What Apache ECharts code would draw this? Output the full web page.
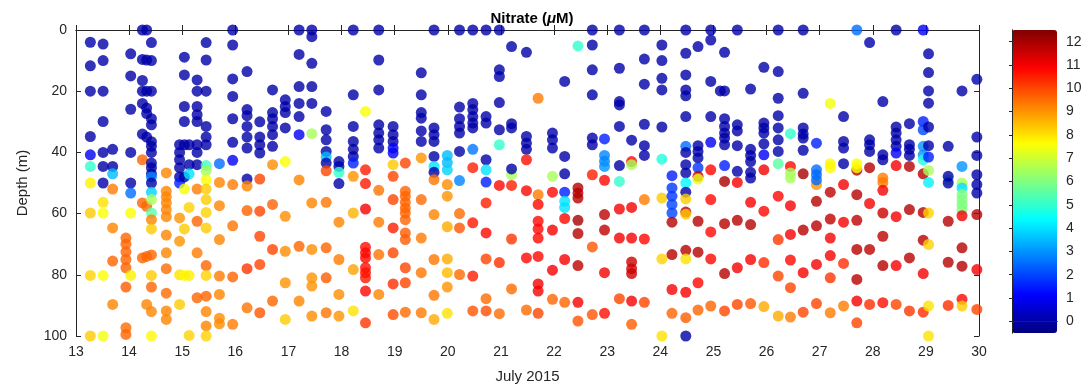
<!DOCTYPE html>
<html>
<head>
<meta charset="utf-8">
<title>Nitrate</title>
<script src="https://cdn.jsdelivr.net/npm/echarts@6/dist/echarts.min.js"></script>
<style>
  html, body { margin: 0; padding: 0; background: #fff; }
  #chart { width: 1089px; height: 389px; }
</style>
</head>
<body>
<div id="chart"></div>
<script>
// profile times (day of July 2015)
var profileDays = [
  13.27, 13.51, 13.69, 13.94, 14.03, 14.25, 14.33, 14.42, 14.7, 14.95,
  15.04, 15.13, 15.28, 15.45, 15.7, 15.95, 16.22, 16.46, 16.7, 16.94,
  17.2, 17.44, 17.71, 17.95, 18.22, 18.45, 18.7, 18.97, 19.2, 19.5,
  19.74, 19.99, 20.22, 20.47, 20.72, 20.97, 21.2, 21.48, 21.7, 21.97,
  22.2, 22.45, 22.72, 22.95, 23.23, 23.46, 23.7, 24.03, 24.22, 24.48,
  24.71, 24.95, 25.21, 25.13, 25.45, 25.7, 25.95, 26.22, 26.45, 26.69,
  26.94, 27.2, 27.45, 27.7, 27.94, 28.19, 28.44, 28.69, 28.95, 29.05,
  29.42, 29.68, 29.96
];

// sample depths (m) of each profile
var profileDepths = [
  [4, 11.7, 20, 34.8, 40.8, 44.6, 50, 59.8, 80.2, 100],
  [4.6, 10, 20, 29.9, 40, 44.6, 50, 56.3, 59.8, 80.2, 100],
  [39, 44.6, 47, 52, 64.7, 75.5, 89.7],
  [68, 70, 72.5, 75, 77.7, 84, 97.3, 99.5],
  [7.8, 15, 25.9, 40, 50, 53.3, 59.8, 80.2],
  [0, 9.6, 16.5, 20, 24, 34, 42.4, 56.5, 74.5],
  [0, 9.8, 20, 25.5, 27.3, 35, 57.6, 74, 89.7],
  [4.1, 10, 20, 29, 31, 36.5, 38, 40, 43.5, 45, 47, 48, 50, 53, 55.4, 59.8, 62, 65, 73.5, 80.2, 84, 92, 100],
  [46.7, 52.7, 54.5, 56.5, 58.7, 61, 67, 72.8, 78, 86, 91.8, 94.6],
  [37.5, 40, 42.4, 45, 48, 50, 61.4, 69, 80, 89.7],
  [8.9, 14.7, 25, 29.9, 37.5, 48, 52, 65, 80.2],
  [37.5, 44, 47, 58, 80.2, 99.8],
  [16.3, 20, 25, 27.7, 29.9, 37.5, 40, 44, 52, 62.5, 72.8, 87.5],
  [4.1, 9.8, 20, 31.5, 35, 37.5, 44.3, 46, 49, 52, 55.4, 59.6, 64.7, 77, 80.2, 87, 92, 96.7, 100],
  [43.7, 49.8, 57.4, 68.5, 80.4, 86.4, 94.2, 96],
  [0, 4.9, 16, 21.7, 29, 36.7, 42.6, 50.5, 64, 80.7, 96.2],
  [13.6, 26, 28, 31.5, 35, 38.6, 48.7, 51, 59, 78, 90.8],
  [30, 35, 37.5, 40.2, 48.7, 59.2, 67.4, 76.6, 92.4],
  [19.6, 27, 29, 31.5, 34.2, 38, 44, 57, 71.7, 88.6],
  [22.8, 25, 27, 32, 43, 60.9, 72.3, 82.6, 94.6],
  [0, 8, 18.5, 24, 28.3, 34.2, 49, 70.7, 88.6],
  [0, 2.2, 10.9, 18.5, 24, 33.9, 56.5, 71.7, 81, 83.7, 93.5],
  [26.6, 32.6, 35.9, 39.7, 41.5, 43.5, 46, 56.3, 71.2, 81, 92.4],
  [43, 44.6, 46.5, 50.2, 62.8, 75, 86.4, 93.5],
  [0, 21.2, 31.5, 36.4, 39, 41.3, 43.5, 47.8, 59.8, 78.3, 91.8],
  [26.6, 45.7, 50.2, 58.5, 71, 72.8, 74.5, 77.7, 79.3, 81, 85.3, 95.7],
  [0, 9.8, 19.6, 31, 33.7, 35.9, 38.6, 52.4, 62.8, 73.4, 86.4],
  [31.5, 34.2, 36.4, 38.6, 40.2, 44, 47.8, 55.4, 64.7, 72.8, 83, 93],
  [43.5, 52.7, 54.3, 56.3, 58.2, 59.8, 62, 66.3, 68.5, 77.7, 82.6, 92.2],
  [14, 21.2, 27, 28.8, 33, 36.4, 41.8, 55.4, 68, 79.3, 92.4],
  [0, 32, 34.2, 36.4, 41.3, 44.6, 46.5, 48.9, 60.3, 75, 86.7, 94.6],
  [41, 43.3, 45.7, 50.5, 54.3, 64.3, 74.8, 79.3, 84, 92.6],
  [0, 25.2, 29, 31.5, 33.7, 39.7, 49.2, 60, 64.7, 79.9],
  [0, 24, 26, 28.3, 30.4, 32, 39, 45, 63, 80.4, 91.8],
  [0, 28.3, 30.4, 42.4, 45.7, 49.7, 56.5, 66.3, 74.8, 87.8, 91.8],
  [0, 13, 15.2, 23.7, 32.6, 37.5, 50.8, 76, 92.7],
  [5.4, 30.6, 32, 47.3, 45.4, 50.8, 68.3, 84.6],
  [7.3, 34.8, 37, 39, 42.4, 52.5, 74.5, 91.5],
  [22.3, 53.8, 57, 62.5, 65, 68, 74, 83, 85.3, 92.6],
  [33.7, 35.9, 38.6, 47.8, 53, 65.4, 78.5, 88],
  [16.8, 41.3, 47, 53, 56, 58, 61.6, 75, 89],
  [5.2, 51.6, 53.3, 54.9, 62.2, 66.5, 77, 89, 95.1],
  [0, 4.9, 13, 21.2, 35.3, 37.5, 47.3, 70.9, 93],
  [35.6, 41, 42.9, 44.6, 49.1, 60.3, 65.4, 79.3, 92.6],
  [0, 12.5, 23.4, 24.5, 31.5, 44.3, 49.5, 58.5, 68, 87.8],
  [36, 43, 44, 58, 68, 75.8, 78, 79.6, 88.6, 96.2],
  [0, 9.5, 17.7, 30.8, 37.8, 41, 55.4, 68.3, 89],
  [4.9, 10, 15.8, 19.6, 31.7, 42.2, 54.9, 74.8, 100],
  [47.6, 51.6, 54.3, 57, 59.8, 62.8, 73.4, 84.8, 92.6],
  [0, 7.6, 14.7, 19.6, 21.5, 28.3, 38, 40, 44, 46.7, 50, 53, 55.2, 59.5, 60.2, 72, 74.8, 85.7, 94, 100],
  [5.4, 37.8, 39.7, 41.8, 45, 47.8, 48.7, 62.5, 72.6, 82.6, 91.5],
  [0, 3.3, 16.8, 28.3, 36.7, 45.7, 55.4, 66, 74.8, 90.2],
  [7.3, 19.9, 29, 31.5, 33.7, 35.3, 37.5, 44.3, 49.5, 63.3, 79.6, 91.8],
  [19.9],
  [0, 31, 33, 37.8, 46.2, 49.8, 62.2, 77.7, 89.7],
  [19.3, 39, 41, 43, 46.5, 48.4, 56.3, 63.6, 75, 89.4],
  [12.2, 30.4, 32, 33.7, 37.2, 40.8, 45.7, 59.2, 76, 90.4],
  [0, 13.6, 22.3, 28, 32, 35.9, 39.7, 43.7, 54.3, 68.5, 80.4, 93.5],
  [33.9, 44.6, 46.7, 48.4, 57.4, 66.8, 75.2, 84.2, 93.8],
  [0, 20.7, 32, 34, 35.3, 39.3, 47, 65.4, 79.3, 92.2],
  [37, 50.5, 45.7, 47.3, 49, 56, 64, 76.6, 89.4],
  [24, 43.7, 45, 53, 61.8, 68, 73.7, 81, 92.4],
  [28.3, 36.4, 38.6, 43.7, 50.5, 62.8, 76.3, 90.2],
  [0, 45.8, 43.7, 45, 53.8, 62.2, 71.7, 81.5, 88.6, 95.7],
  [4.1, 35.9, 37.5, 39.7, 45, 56.7, 71.7, 89.7],
  [23.4, 40.8, 42.4, 48.4, 49.8, 52.4, 59.8, 67.4, 77, 89.1],
  [0, 31.7, 33.7, 35.9, 38, 40.2, 44.3, 61, 77, 89.7],
  [30.6, 37.5, 39, 41, 44.6, 58.7, 74.5, 91.8],
  [0, 29.9, 32.6, 38, 40.8, 42.4, 47, 59.6, 68.7, 79.6, 92.2],
  [7.8, 13.9, 19.9, 23.9, 31.7, 37.8, 41.5, 45.9, 49.8, 59.8, 70.1, 90.2, 100],
  [38, 49, 47.8, 50, 62.5, 75.9, 90],
  [19.9, 44.6, 50, 51.6, 53.8, 55.4, 57, 58.7, 60.7, 71.2, 77.2, 88, 90.2],
  [16.1, 35, 41, 47.3, 50.5, 53.3, 60.3, 78.3, 91.3]
];

// nitrate (uM) at each sample
var profileNitrate = [
  [0, 0, 0, 0, 1, 5, 7.8, 8.3, 8.2, 8.3],
  [0, 0, 0, 0, 0, 0, 0, 8, 7.6, 7.6, 7.5],
  [0, 0, 3.5, 9.3, 9.2, 9.6, 9.2],
  [9.6, 9.6, 9.6, 9.6, 9.6, 9.7, 9.5, 9.6],
  [0, 0, 0, 0, 0, 2.5, 7.6, 7.8],
  [0, 0, 0, 0, 0, 0, 9.6, 9.6, 9.6],
  [0, 0, 0, 0, 0, 0, 9.6, 9.6, 9.2],
  [0, 0, 0, 0, 0, 0, 0, 0, 0, 0, 0, 2.8, 0, 3.8, 6.5, 5.5, 9.2, 8.3, 9.6, 8.3, 9.6, 9.2, 7.7],
  [9.2, 9.2, 9.2, 9.2, 9.2, 9.2, 9.2, 9.2, 9.5, 9.5, 9.2, 9.2],
  [0, 0, 0, 0, 0, 1.5, 9, 9, 8, 8.3],
  [0, 0, 0, 0, 0, 0, 7.5, 8.3, 7.7],
  [0, 0, 4, 8.2, 7.8, 8.2],
  [0, 0, 0, 0, 0, 0, 0, 0, 9.3, 9.6, 9.3, 9.6],
  [0, 0, 0, 0, 0, 0, 5.2, 6.5, 7.6, 8.3, 8.3, 8.2, 8.3, 9.6, 8.2, 9.6, 9.2, 9.2, 8.2],
  [2.5, 9.2, 9.2, 9.2, 9.3, 9.2, 9.1, 9.1],
  [0, 0, 0, 0, 0, 0, 1, 9.3, 9.4, 9.6, 9.3],
  [0, 0, 0, 0, 0, 0, 0, 9.2, 9.6, 10.2, 9.4],
  [0, 0, 0, 0, 10, 10, 10, 10, 9.8],
  [0, 0, 0, 0, 0, 0, 9.1, 9.6, 10, 9.6],
  [0, 0, 0, 0, 7.6, 9.1, 9.1, 9, 8.3],
  [0, 0, 0, 0, 0, 1, 9.2, 9.6, 9.2],
  [0, 0, 0, 0, 0, 6.5, 9.2, 9.1, 9, 9, 9.1],
  [0, 0, 0, 0, 3.5, 0, 10, 9.4, 9.6, 9.7, 9.4],
  [0, 0, 5, 0, 9.2, 9.3, 9.1, 9],
  [0, 0, 0, 0, 0, 0, 1.5, 9, 8.6, 8.8, 8],
  [7.6, 10.5, 10.6, 11, 10.7, 10.8, 10.8, 10.7, 10.7, 10.6, 10.8, 10.2],
  [0, 0, 0, 0, 0, 0, 0, 9.4, 9.3, 9.4, 9.2],
  [0, 0, 0, 1, 1, 8.3, 10, 10, 10.5, 10, 10.3, 9.9],
  [10, 9.6, 9.6, 9.6, 9.6, 9.6, 9.6, 9.7, 9.7, 10, 10, 9.5],
  [0, 0, 0, 0, 0, 0, 9, 9.5, 9.3, 9.4, 9.3],
  [0, 0, 0, 0, 0, 4, 0, 9.4, 9.2, 9.4, 9.4, 8.7],
  [3.5, 3.5, 3.8, 9.1, 9, 8.7, 8.7, 8.5, 9, 8],
  [0, 0, 0, 0, 0, 0, 2.8, 9.5, 9.8, 9.5],
  [0, 0, 0, 0, 0, 0, 2.6, 10.5, 10.6, 10.5, 9.8],
  [0, 0, 0, 0, 4, 1.5, 10.5, 10.8, 10, 9.5, 9.9],
  [0, 0, 0, 0, 0, 5, 10.8, 10.3, 9.5],
  [0, 0, 0, 6.5, 0, 10.5, 10.2, 9.5],
  [0, 0, 0, 0, 10.7, 10.8, 10.8, 9.5],
  [9.3, 9.3, 10.8, 10.8, 10.8, 10.8, 10.8, 11, 11, 10],
  [0, 0, 0, 6.5, 10.8, 11, 11, 9.6],
  [0, 0, 0, 1.5, 4, 4, 10.8, 11, 9.6],
  [5, 11.8, 11.8, 11.8, 12, 11.8, 11.7, 11, 9.8],
  [0, 0, 0, 0, 0, 0, 10.5, 9.8, 9.8],
  [1.5, 2.8, 2.8, 3, 10.8, 11.7, 11.7, 11, 10.7],
  [0, 0, 0, 0, 0, 0, 5, 11, 11, 10],
  [0, 10.8, 6.5, 11, 11, 11.5, 11.5, 11.5, 11, 9.7],
  [0, 0, 0, 0, 0, 0, 9.3, 10.8, 10],
  [0, 0, 0, 0, 0, 4.8, 8.3, 8.2, 8],
  [1.5, 1.8, 1.8, 2, 2, 11.8, 11.8, 11, 9.6],
  [0, 0, 0, 0, 0, 0, 2.5, 0, 0, 0, 4.3, 0, 8.3, 11.8, 8.3, 11.8, 8, 11, 9.7, 0],
  [0, 0, 0, 0, 1.8, 11.5, 7.3, 11.8, 11.8, 10.8, 9.6],
  [0, 0, 0, 0, 1, 10.8, 10.8, 10.8, 10.8, 9.6],
  [0, 0, 0, 0, 0, 0, 0, 1.5, 12, 11.8, 11.8, 10],
  [0],
  [0, 0, 0, 0, 0, 11, 11.8, 11, 10],
  [0, 0, 0, 0, 0, 0, 11, 11.8, 11, 9.8],
  [0, 0, 0, 0, 0, 1, 11, 10.8, 10.3, 8.7],
  [0, 0, 0, 0, 0, 0, 0, 5.5, 10.8, 10.2, 10, 8.7],
  [5, 10.8, 6.5, 6.5, 11, 11, 10.8, 10, 9.3],
  [0, 0, 0, 0, 0, 0, 12, 11.8, 11, 10],
  [1.5, 9, 2.5, 2.5, 2.5, 11.8, 11.8, 11, 10],
  [7.5, 7.7, 7.7, 11.7, 11.7, 11, 11, 10.2, 9.3],
  [0, 0, 0, 0, 11, 11, 10.3, 9.3],
  [2.5, 11.8, 7.6, 7.6, 11.8, 11.7, 11.8, 11.8, 11, 10],
  [0, 0, 0, 0, 11.8, 11, 11.7, 10.3],
  [0, 0, 0, 9.3, 9.3, 11, 11.5, 11.7, 11.8, 10.7],
  [0, 0, 0, 0, 0, 1, 11, 11, 11, 10],
  [0, 0, 0, 0, 11.8, 11.8, 11.8, 10.2],
  [1, 1.5, 2, 3, 3, 4.8, 11.8, 11.8, 11.8, 11, 10.3],
  [0, 0, 0, 0, 0, 0, 1.5, 6.5, 4.2, 8.2, 8.2, 8, 8],
  [0, 5.5, 0, 0, 11.8, 11.8, 10.3],
  [0, 3, 6.5, 4, 6, 6, 6, 6, 11, 11.8, 11.8, 10.8, 8.3],
  [0, 0, 0, 0, 0, 0, 11.8, 11, 10]
];

var colorTicks = [0, 1, 2, 3, 4, 5, 6, 7, 8, 9, 10, 11, 12];

// jet colormap
var jet = ['#000080', '#0000ff', '#0080ff', '#00ffff', '#80ff80',
           '#ffff00', '#ff8000', '#ff0000', '#800000'];

var axisColor = '#262626';
var font = 'Liberation Sans, Arial, sans-serif';

var points = [];
profileDays.forEach(function (day, i) {
  profileDepths[i].forEach(function (d, j) {
    points.push([day, d, profileNitrate[i][j]]);
  });
});

var myChart = echarts.init(document.getElementById('chart'));

var lineStyle = { color: axisColor, width: 1 };
var tick = { show: true, inside: true, length: 5, lineStyle: lineStyle };

var option = {
  animation: false,
  textStyle: { fontFamily: font },
  title: {
    text: '{b|Nitrate (}{i|μ}{b|M)}',
    left: 527,
    textAlign: 'center',
    top: 6,
    textStyle: {
      rich: {
        b: { fontSize: 15, fontWeight: 'bold', color: '#000', fontFamily: font },
        i: { fontSize: 15, fontWeight: 'bold', fontStyle: 'italic', color: '#000', fontFamily: font }
      }
    }
  },
  grid: [
    { left: 76, top: 30, width: 903, height: 307 },
    { left: 1012, top: 30, width: 45, height: 303 }
  ],
  xAxis: [
    {
      gridIndex: 0, type: 'value', min: 13, max: 30, interval: 1,
      axisLine: { show: true, lineStyle: lineStyle },
      axisTick: tick,
      axisLabel: { color: axisColor, fontSize: 14, margin: 9 },
      splitLine: { show: false },
      name: 'July 2015', nameLocation: 'middle', nameGap: 33,
      nameTextStyle: { color: axisColor, fontSize: 15 }
    },
    {
      gridIndex: 0, type: 'value', min: 13, max: 30, interval: 1, position: 'top',
      axisLine: { show: true, lineStyle: lineStyle },
      axisTick: tick, axisLabel: { show: false }, splitLine: { show: false }
    },
    {
      gridIndex: 1, type: 'value', min: 0, max: 1, z: 10,
      axisLine: { show: true, lineStyle: lineStyle },
      axisTick: { show: false }, axisLabel: { show: false }, splitLine: { show: false }
    },
    {
      gridIndex: 1, type: 'value', min: 0, max: 1, position: 'top', z: 10,
      axisLine: { show: true, lineStyle: lineStyle },
      axisTick: { show: false }, axisLabel: { show: false }, splitLine: { show: false }
    }
  ],
  yAxis: [
    {
      gridIndex: 0, type: 'value', inverse: true, min: 0, max: 100, interval: 20,
      axisLine: { show: true, lineStyle: lineStyle },
      axisTick: tick,
      axisLabel: { color: axisColor, fontSize: 14, margin: 9 },
      splitLine: { show: false },
      name: 'Depth (m)', nameLocation: 'middle', nameGap: 46,
      nameTextStyle: { color: axisColor, fontSize: 15 }
    },
    {
      gridIndex: 0, type: 'value', inverse: true, min: 0, max: 100, interval: 20, position: 'right',
      axisLine: { show: true, lineStyle: lineStyle },
      axisTick: tick, axisLabel: { show: false }, splitLine: { show: false }
    },
    {
      gridIndex: 1, type: 'value', min: -0.5, max: 12.5, position: 'right', z: 10,
      axisLine: { show: true, lineStyle: lineStyle },
      axisTick: { show: true, inside: true, length: 3, lineStyle: lineStyle, customValues: colorTicks },
      axisLabel: { color: axisColor, fontSize: 14, margin: 9, customValues: colorTicks },
      splitLine: { show: false }
    },
    {
      gridIndex: 1, type: 'value', min: -0.5, max: 12.5, position: 'left', z: 10,
      axisLine: { show: true, lineStyle: lineStyle },
      axisTick: { show: false }, axisLabel: { show: false }, splitLine: { show: false }
    }
  ],
  visualMap: {
    type: 'continuous',
    min: -0.5,
    max: 12.5,
    dimension: 2,
    seriesIndex: 0,
    calculable: false,
    hoverLink: false,
    left: 1012,
    top: 30,
    padding: 0,
    itemWidth: 45,
    itemHeight: 303,
    text: null,
    inRange: { color: jet }
  },
  series: [{
    type: 'scatter',
    xAxisIndex: 0,
    yAxisIndex: 0,
    symbol: 'circle',
    symbolSize: 11,
    clip: false,
    data: points,
    emphasis: { disabled: true }
  }]
};

myChart.setOption(option);
</script>
</body>
</html>
